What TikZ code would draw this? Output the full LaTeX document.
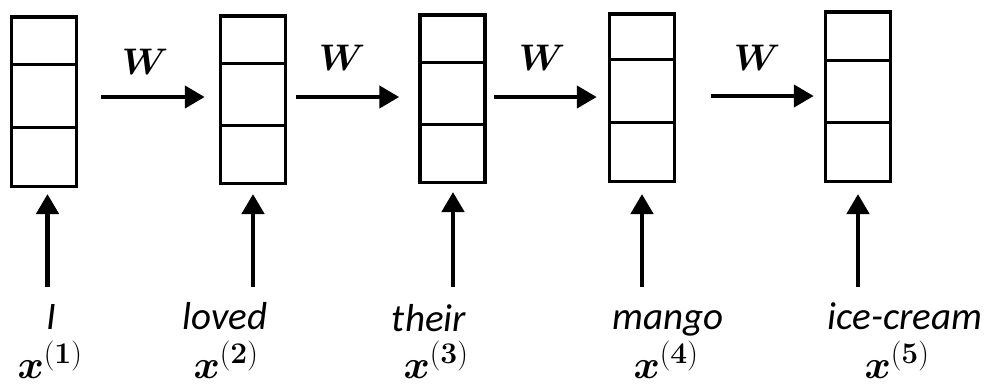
\documentclass[tikz,border=0pt]{standalone}
\usepackage{fix-cm}
\usepackage{amsmath}
\usepackage{bm}
\usepackage[no-math]{fontspec}
\setmainfont{Carlito}
\DeclareMathSizes{40}{40}{30}{24}
\DeclareMathSizes{37}{37}{28}{22}
\usetikzlibrary{arrows.meta}
\begin{document}
\begin{tikzpicture}[x=1pt,y=-1pt,
  cell/.style={draw,line width=3.5pt,inner sep=0pt,minimum width=65pt},
  divider/.style={line width=3pt},
  flow/.style={line width=4.5pt,-{Triangle[length=20pt,width=22pt]}},
  wlabel/.style={inner sep=0pt,font=\fontsize{37}{40}\selectfont},
  word/.style={inner sep=0pt,anchor=base,font=\fontsize{39}{44}\selectfont\itshape},
  vec/.style={inner sep=0pt,anchor=base,font=\fontsize{40}{46}\selectfont}]
\useasboundingbox (0,0) rectangle (989,384);
% memory cells: each column of three stacked slots
\node[cell,minimum height=169.5pt] (b1) at (44,101.5) {};
\node[cell,minimum height=167.5pt] (b2) at (253,99.5) {};
\node[cell,minimum height=167.5pt] (b3) at (452.5,98.5) {};
\node[cell,minimum height=167.5pt] (b4) at (642,97.5) {};
\node[cell,minimum height=169.5pt] (b5) at (858,96.5) {};
\draw[divider] (b1.west |- 0,64) -- (b1.east |- 0,64) (b1.west |- 0,127) -- (b1.east |- 0,127);
\draw[divider] (b2.west |- 0,63) -- (b2.east |- 0,63) (b2.west |- 0,125) -- (b2.east |- 0,125);
\draw[divider] (b3.west |- 0,62) -- (b3.east |- 0,62) (b3.west |- 0,124) -- (b3.east |- 0,124);
\draw[divider] (b4.west |- 0,59) -- (b4.east |- 0,59) (b4.west |- 0,122) -- (b4.east |- 0,122);
\draw[divider] (b5.west |- 0,60) -- (b5.east |- 0,60) (b5.west |- 0,122) -- (b5.east |- 0,122);
% recurrent weight transitions
\draw[flow] ([xshift=23pt,yshift=4.5pt]b1.east) -- ([xshift=-14pt,yshift=2.5pt]b2.west);
\draw[flow] ([xshift=9pt,yshift=2.5pt]b2.east) -- ([xshift=-19pt,yshift=1.5pt]b3.west);
\draw[flow] ([xshift=7pt,yshift=1.5pt]b3.east) -- ([xshift=-11pt,yshift=0.5pt]b4.west);
\draw[flow] ([xshift=35pt,yshift=1.5pt]b4.east) -- ([xshift=-10pt,yshift=0.5pt]b5.west);
\node[wlabel] (w1) at (145,62) {$\bm{W}$};
\node[wlabel] (w2) at (342,58) {$\bm{W}$};
\node[wlabel] (w3) at (542,58) {$\bm{W}$};
\node[wlabel] (w4) at (757,58) {$\bm{W}$};
% input words
\node[word] (t1) at (51,329) {I};
\node[word] (t2) at (225,329) {loved};
\node[word] (t3) at (429,331) {their};
\node[word] (t4) at (668,329) {mango};
\node[word] (t5) at (905,329) {ice-cream};
\node[vec] (v1) at (50,378) {$\bm{x}^{(\mathbf{1})}$};
\node[vec] (v2) at (226,378) {$\bm{x}^{(\mathbf{2})}$};
\node[vec] (v3) at (436,378) {$\bm{x}^{(\mathbf{3})}$};
\node[vec] (v4) at (666,378) {$\bm{x}^{(\mathbf{4})}$};
\node[vec] (v5) at (897,378) {$\bm{x}^{(\mathbf{5})}$};
% inputs feeding each cell
\coordinate (i1) at (47.5,287);
\coordinate (i2) at (253,287);
\coordinate (i3) at (453,287);
\coordinate (i4) at (642,287);
\coordinate (i5) at (858,287);
\draw[flow] (i1) -- ([yshift=-6pt]b1.south -| i1);
\draw[flow] (i2) -- ([yshift=-9pt]b2.south -| i2);
\draw[flow] (i3) -- ([yshift=-8pt]b3.south -| i3);
\draw[flow] (i4) -- ([yshift=-11pt]b4.south -| i4);
\draw[flow] (i5) -- ([yshift=-11pt]b5.south -| i5);
\end{tikzpicture}
\end{document}
